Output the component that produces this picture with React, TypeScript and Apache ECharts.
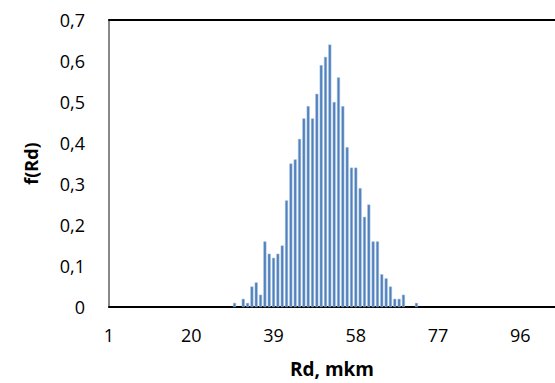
import React, { useEffect, useRef } from "react";
import * as echarts from "echarts";

const categoryCount = 104;
const categories: string[] = Array.from({ length: categoryCount }, (_, i) => String(i + 1));

// non-zero bins: category number and its value
const binCategories = [30, 32, 33, 34, 35, 36, 37, 38, 39, 40, 41, 42, 43, 44, 45, 46, 47, 48, 49, 50, 51, 52, 53, 54, 55, 56, 57, 58, 59, 60, 61, 62, 63, 64, 65, 66, 67, 68, 69, 72];
const binValues = [0.01, 0.02, 0.01, 0.05, 0.06, 0.03, 0.16, 0.13, 0.12, 0.13, 0.15, 0.26, 0.35, 0.36, 0.41, 0.46, 0.49, 0.46, 0.52, 0.59, 0.61, 0.64, 0.5, 0.56, 0.49, 0.39, 0.34, 0.34, 0.29, 0.22, 0.25, 0.16, 0.16, 0.08, 0.07, 0.05, 0.02, 0.02, 0.03, 0.01];

const yTicks = ["0", "0,1", "0,2", "0,3", "0,4", "0,5", "0,6", "0,7"];

const FONT = "'Open Sans', sans-serif";

export default function App() {
  const ref = useRef<HTMLDivElement>(null);
  useEffect(() => {
    document.body.style.margin = "0";
    const chart = echarts.init(ref.current!, null, { renderer: "svg" });
    const values: (number | null)[] = categories.map(() => null);
    binCategories.forEach((c, i) => {
      values[c - 1] = binValues[i];
    });
    chart.setOption({
      animation: false,
      backgroundColor: "#ffffff",
      grid: { left: 109, top: 20, right: -2, bottom: 74, containLabel: false },
      xAxis: [
        {
          type: "category",
          data: categories,
          boundaryGap: false,
          axisLine: { show: true, lineStyle: { color: "#000000", width: 2 } },
          axisTick: { show: false },
          axisLabel: {
            interval: 18,
            margin: 19,
            color: "#000000",
            fontSize: 18,
            fontFamily: FONT,
          },
          name: "Rd, mkm",
          nameLocation: "middle",
          nameGap: 52,
          nameTextStyle: { fontSize: 19, fontWeight: "bold", color: "#000000", fontFamily: FONT },
          splitLine: { show: false },
        },
        {
          type: "category",
          data: categories,
          boundaryGap: false,
          position: "top",
          axisLine: { show: true, lineStyle: { color: "#000000", width: 2 } },
          axisTick: { show: false },
          axisLabel: { show: false },
          splitLine: { show: false },
        },
      ],
      yAxis: {
        type: "value",
        min: 0,
        max: 0.7,
        interval: 0.1,
        axisLine: { show: true, lineStyle: { color: "#888888", width: 2 } },
        axisTick: { show: false },
        splitLine: { show: false },
        axisLabel: {
          margin: 24,
          color: "#000000",
          fontSize: 18,
          fontFamily: FONT,
          formatter: (v: number) => yTicks[Math.round(v * 10)] ?? "",
        },
        name: "f(Rd)",
        nameLocation: "middle",
        nameGap: 69,
        nameTextStyle: { fontSize: 18, fontWeight: "bold", color: "#000000", fontFamily: FONT },
      },
      series: [
        {
          type: "bar",
          data: values,
          barWidth: "70%",
          itemStyle: { color: "#4f81bd", borderColor: "#a9c1df", borderWidth: 0.5 },
        },
      ],
    });
    return () => chart.dispose();
  }, []);
  return <div ref={ref} style={{ width: 555, height: 383 }} />;
}
